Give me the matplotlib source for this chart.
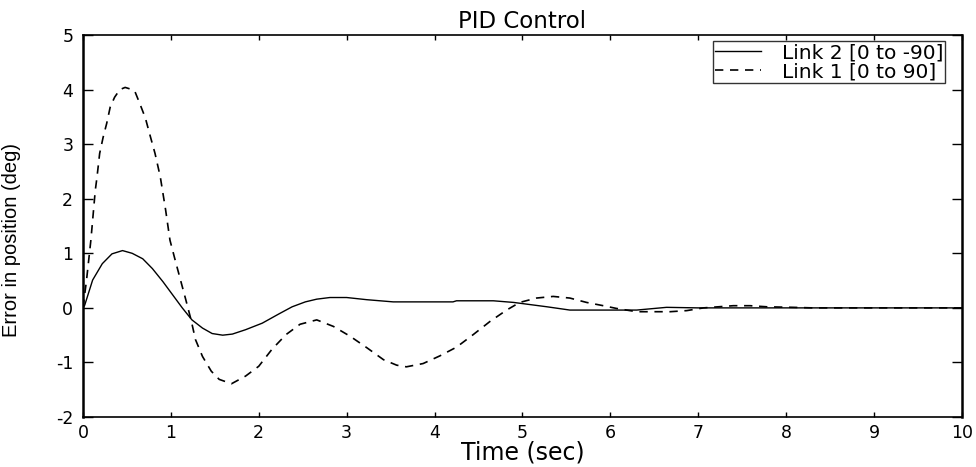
import matplotlib
matplotlib.use('Agg')
import matplotlib.pyplot as plt

plt.rcParams['font.family'] = ['DejaVu Sans']
plt.rcParams['axes.unicode_minus'] = False

# Link 2 [0 to -90] (solid)
t_link2 = [0, 0.02, 0.11, 0.22, 0.33, 0.45, 0.56, 0.68, 0.79, 0.91, 1.02, 1.13, 1.24,
           1.36, 1.47, 1.59, 1.70, 1.85, 2.04, 2.23, 2.38, 2.53, 2.66, 2.81, 3.0, 3.23,
           3.53, 4.21, 4.25, 4.67, 4.90, 5.28, 5.54, 6.3, 6.64, 7.0, 8.0, 10.0]
e_link2 = [0, 0.05, 0.51, 0.81, 0.99, 1.05, 1.0, 0.9, 0.72, 0.48, 0.24, 0.0, -0.22,
           -0.37, -0.47, -0.5, -0.48, -0.4, -0.28, -0.11, 0.02, 0.11, 0.16, 0.19, 0.19, 0.15,
           0.11, 0.11, 0.13, 0.13, 0.1, 0.02, -0.04, -0.04, 0.01, 0.0, 0.0, 0.0]

# Link 1 [0 to 90] (dashed)
t_link1 = [0, 0.04, 0.09, 0.14, 0.16, 0.19, 0.23, 0.27, 0.31, 0.36, 0.42, 0.48, 0.54,
           0.59, 0.65, 0.71, 0.76, 0.82, 0.88, 0.94, 0.99, 1.05, 1.11, 1.17, 1.23, 1.28,
           1.36, 1.46, 1.55, 1.69, 1.85, 2.0, 2.15, 2.31, 2.47, 2.66, 2.85, 3.04, 3.23,
           3.42, 3.57, 3.68, 3.87, 4.06, 4.25, 4.44, 4.63, 4.82, 4.97, 5.16, 5.35, 5.54,
           5.73, 5.92, 6.07, 6.3, 6.68, 6.87, 7.06, 7.4, 7.59, 7.78, 8.08, 8.3, 10.0]
e_link1 = [0, 0.5, 1.24, 2.15, 2.4, 2.83, 3.13, 3.38, 3.68, 3.86, 4.0, 4.04, 4.01,
           3.97, 3.73, 3.48, 3.18, 2.83, 2.4, 1.8, 1.24, 0.87, 0.51, 0.15, -0.22, -0.58,
           -0.89, -1.16, -1.31, -1.39, -1.25, -1.07, -0.76, -0.49, -0.3, -0.22, -0.34, -0.52, -0.73,
           -0.95, -1.05, -1.08, -1.02, -0.88, -0.72, -0.49, -0.25, -0.04, 0.1, 0.18, 0.21, 0.18,
           0.1, 0.04, -0.01, -0.07, -0.07, -0.05, 0.0, 0.04, 0.04, 0.02, 0.01, 0.0, 0.0]

xticks = list(range(0, 11))
yticks = list(range(-2, 6))

fig = plt.figure(figsize=(9.76, 4.67), dpi=100)
ax = fig.add_axes([0.085, 0.107, 0.9005, 0.818])

ax.plot(t_link2, e_link2, color='black', linewidth=1.0, label='Link 2 [0 to -90]')
ax.plot(t_link1, e_link1, color='black', linewidth=1.2, linestyle=(0, (5, 4)),
        label='Link 1 [0 to 90]')

ax.set_xlim(0, 10)
ax.set_ylim(-2, 5)
ax.set_xticks(xticks)
ax.set_yticks(yticks)
ax.tick_params(direction='in', top=True, right=True, width=1, labelsize=12.5)
ax.tick_params(axis='x', length=3.6, pad=5)
ax.tick_params(axis='y', length=7, pad=7)
for s in ax.spines.values():
    s.set_linewidth(1.2)
ax.spines['left'].set_linewidth(1.8)
ax.spines['right'].set_linewidth(1.8)

ax.set_title('PID Control', fontsize=16.5, pad=5)
ax.set_xlabel('Time (sec)', fontsize=17, labelpad=-1)
ax.set_ylabel('Error in position (deg)', fontsize=14.5,
              family=['Liberation Sans', 'DejaVu Sans'])
ax.yaxis.set_label_coords(-0.07, 0.463)

leg = ax.legend(loc='upper right', bbox_to_anchor=(0.981, 0.984), borderaxespad=0,
                fontsize=14.5, frameon=True, fancybox=False, borderpad=0.1,
                labelspacing=0.0, handlelength=2.3, handletextpad=1.0)
leg.get_frame().set_edgecolor('black')
leg.get_frame().set_linewidth(1.0)

fig.savefig('out.png', dpi=100)
